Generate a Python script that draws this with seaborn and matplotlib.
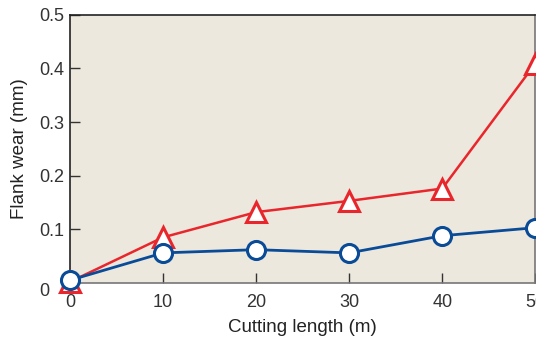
import matplotlib
matplotlib.use("Agg")
import matplotlib.pyplot as plt
import matplotlib.transforms as mtransforms
import seaborn as sns
import pandas as pd

cutting_length = [0, 10, 20, 30, 40, 50]
wear_red = [0.002, 0.085, 0.132, 0.153, 0.176, 0.409]
wear_blue = [0.005, 0.056, 0.062, 0.056, 0.088, 0.103]

df = pd.DataFrame({"length": cutting_length, "red": wear_red, "blue": wear_blue})

sns.set_style("ticks")
plt.rcParams["font.family"] = ["Liberation Sans", "DejaVu Sans"]

fig = plt.figure(figsize=(5.36, 3.38), dpi=100)
ax = fig.add_axes([0.1306, 0.163, 0.868, 0.793])
ax.set_facecolor("#EDE8DE")

red = "#E8262B"
blue = "#0A4B98"

sns.lineplot(data=df, x="length", y="red", ax=ax, color=red, lw=1.8,
             marker="^", markersize=14, markerfacecolor="white",
             markeredgecolor=red, markeredgewidth=2.2, clip_on=False, zorder=3)
sns.lineplot(data=df, x="length", y="blue", ax=ax, color=blue, lw=2,
             marker="o", markersize=13, markerfacecolor="white",
             markeredgecolor=blue, markeredgewidth=2.2, clip_on=False, zorder=4)

ax.set_xlim(0, 50)
ax.set_ylim(0, 0.5)
ax.set_xticks(cutting_length)
ax.set_xticklabels(["0", "10", "20", "30", "40", "50"])
ax.set_yticks([0, 0.1, 0.2, 0.3, 0.4, 0.5])
ax.set_yticklabels(["0", "0.1", "0.2", "0.3", "0.4", "0.5"])
ax.tick_params(direction="in", length=7, width=1, labelsize=13, colors="#333333")
ax.tick_params(axis="y", pad=22)
ax.tick_params(axis="x", pad=8)
for lab in ax.get_yticklabels():
    lab.set_horizontalalignment("left")
# the "0" label sits a little lower in the original
zero = ax.get_yticklabels()[0]
zero.set_transform(zero.get_transform() + mtransforms.ScaledTranslation(0, -5 / 72, fig.dpi_scale_trans))

for side in ["left", "top"]:
    ax.spines[side].set_color("#222222")
for side in ["bottom", "right"]:
    ax.spines[side].set_color("#777777")
for side in ax.spines:
    ax.spines[side].set_linewidth(1.2)

ax.set_xlabel("Cutting length (m)", fontsize=13.5, color="#222222", labelpad=6)
ax.set_ylabel("Flank wear (mm)", fontsize=13.5, color="#222222", labelpad=8)

fig.savefig("out.png", dpi=100)
